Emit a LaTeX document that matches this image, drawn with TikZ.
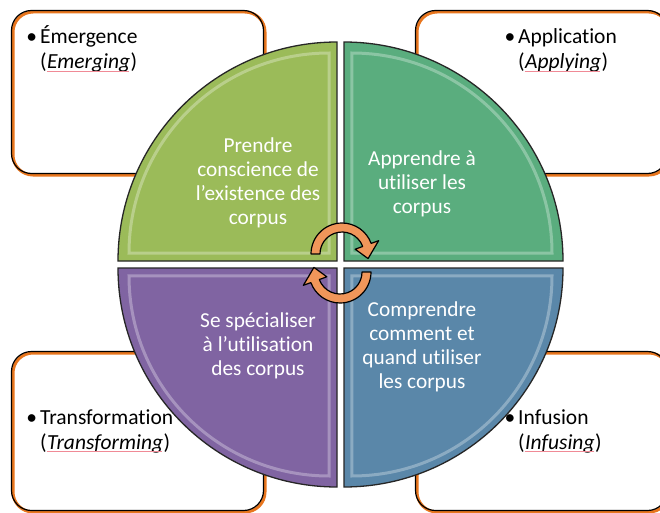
\documentclass[tikz,border=0pt]{standalone}
\usepackage{fontspec}
\setmainfont{Carlito}[RawFeature={-liga;-calt}]
\usepackage{xcolor}
\usepackage{tikz}
\usetikzlibrary{positioning, calc}

\definecolor{boxorange}{HTML}{E8761E}
\definecolor{qgreen}{HTML}{9BBB59}
\definecolor{qteal}{HTML}{5AAD7E}
\definecolor{qblue}{HTML}{5A87A9}
\definecolor{qpurple}{HTML}{8064A2}
\definecolor{arroworange}{HTML}{F0965A}
\definecolor{spellred}{HTML}{F08A96}

\tikzset{
    cyclearrow/.pic={
        \draw[arrowbody] (180:31) arc[start angle=180, end angle=340, radius=31]
            -- (340:39) -- (10:26.5) -- (340:14) -- (340:22)
            arc[start angle=340, end angle=180, radius=22] -- cycle;
    }
}

\begin{document}
\begin{tikzpicture}[
        x=1pt, y=-1pt,
        boxedge/.style={draw=black, line width=1.2pt, rounded corners=20pt},
        boxline/.style={draw=boxorange, line width=3pt, rounded corners=20pt, fill=white},
        quadline/.style={draw=black!85, line width=1.3pt},
        bevel/.style={draw=white, opacity=.3, line width=3pt},
        arrowbody/.style={fill=arroworange, draw=black, line width=1.2pt, line join=round},
        spell/.style={draw=spellred, line width=0.7pt},
        quadlabel/.style={text=white, align=center, inner sep=0pt, font=\fontsize{21.3}{24}\selectfont},
        boxlabel/.style={anchor=base west, inner sep=0pt, font=\fontsize{21.5}{25}\selectfont}
    ]
    \clip (0,0) rectangle (660,513);
    \fill[white] (0,0) rectangle (660,513);

    % corner boxes
    \foreach \bx/\by/\bh in {13/12/163, 417/12/163, 13/353/159, 417/353/159} {
        \draw[boxline] (\bx,\by) rectangle ++(252,\bh);
        \draw[boxedge] (\bx-1.5,\by-1.5) rectangle ++(252,\bh);
    }

    % circle in four quarters
    \foreach \cx/\cy/\ang/\col in {337/261/180/qgreen, 344/261/270/qteal, 344/268/0/qblue, 337/268/90/qpurple} {
        \filldraw[fill=\col, quadline] (\cx,\cy) -- ++(\ang:219)
            arc[start angle=\ang, end angle=\ang+90, radius=219] -- cycle;
        \draw[bevel] ($(\cx,\cy)+(\ang+45:11.3)$) -- ++(\ang:200)
            arc[start angle=\ang, end angle=\ang+90, radius=200] -- cycle;
    }

    % box texts, English word underlined by the spell checker
    \foreach \nm/\bx/\by/\head/\word in {emerg/40/44/Émergence/Emerging, applic/518/44/Application/Applying,
            transf/40/424/Transformation/Transforming, infus/518/424/Infusion/Infusing} {
        \node[boxlabel] (\nm) at (\bx,\by) {\llap{\textbullet\hspace{3pt}}\head};
        \node[boxlabel] (\nm-open) at (\bx,\by+25) {(};
        \node[boxlabel] (\nm-word) at (\nm-open.base east) {\textit{\word}};
        \node[boxlabel] (\nm-close) at (\nm-word.base east) {)};
        \draw[spell] ($(\nm-word.base west)+(0,2.5)$) -- ($(\nm-word.base east)+(-1,2.5)$);
    }

    \node[quadlabel] (aware) at (258,183) {Prendre\\conscience de\\l’existence des\\corpus};
    \node[quadlabel] (learn) at (422,184) {Apprendre à\\utiliser les\\corpus};
    \node[quadlabel] (special) at (258,346) {Se spécialiser\\à l’utilisation\\des corpus};
    \node[quadlabel] (underst) at (422,347) {Comprendre\\comment et\\quand utiliser\\les corpus};

    % turning arrows
    \pic at (342,254) {cyclearrow};
    \pic[rotate=180] at (340,272) {cyclearrow};
\end{tikzpicture}
\end{document}
